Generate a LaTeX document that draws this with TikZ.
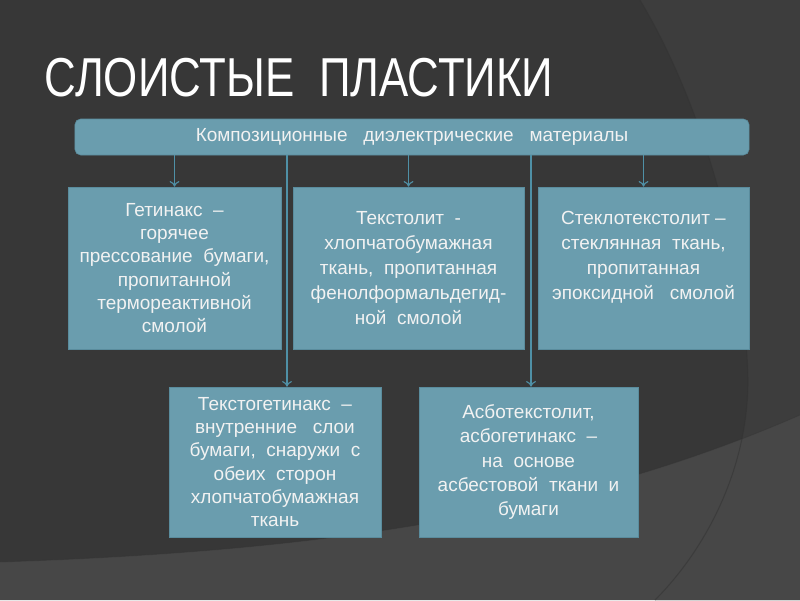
\documentclass[tikz,border=0pt]{standalone}
\usepackage{fontspec}
\setmainfont{Liberation Sans}
\usetikzlibrary{arrows.meta, positioning}

\definecolor{slideBg}{HTML}{373737}
\definecolor{slideArc}{HTML}{3D3D3D}
\definecolor{slideBand}{HTML}{474747}
\definecolor{boxFill}{HTML}{6A9DAE}
\definecolor{boxEdge}{HTML}{5A8C9D}
\definecolor{linkCol}{HTML}{4F90A6}

\begin{document}
\begin{tikzpicture}[x=0.025cm, y=-0.025cm, >={To[length=4pt, width=7pt]},
	matbox/.style={draw=boxEdge, fill=boxFill, text=white!95!black, align=center, inner sep=0pt,
		font=\fontsize{13.5}{16.5}\selectfont},
	headbar/.style={matbox, rounded corners=4pt, minimum width=16.85cm, minimum height=0.9cm},
	link/.style={->, draw=linkCol, line width=0.8pt}]
	\useasboundingbox (0,0) rectangle (800,600);
	% background
	\fill[slideBg] (0,0) rectangle (800,600);
	\fill[slideArc] (640,0) .. controls (700,100) and (745,250) .. (748,380)
		.. controls (748,470) and (705,550) .. (655,600) -- (800,600) -- (800,0) -- cycle;
	\fill[slideBand] (0,562) .. controls (300,552) and (560,520) .. (800,415) -- (800,600) -- (0,600) -- cycle;
	\draw[black!80, opacity=0.5, line width=0.8pt] (640,0) .. controls (700,100) and (745,250) .. (748,380)
		.. controls (748,470) and (705,550) .. (655,600);
	\draw[black!80, opacity=0.4, line width=0.6pt] (0,562) .. controls (300,552) and (560,520) .. (800,415);

	\node[text=white, font=\fontsize{39}{41}\selectfont, anchor=west] (title) at (40,78) {\scalebox{0.8}[1]{СЛОИСТЫЕ~~ПЛАСТИКИ}};

	\node[headbar] (bar) at (412,137) {Композиционные~~~диэлектрические~~~материалы};

	\node[matbox, minimum width=5.325cm, minimum height=4.05cm] (getinaks) at (174.5,268)
		{Гетинакс~~–\\горячее\\прессование~~бумаги,\\пропитанной\\термореактивной\\смолой};
	\node[matbox, minimum width=5.775cm, minimum height=4.05cm, font=\fontsize{13.5}{17.7}\selectfont] (tekstolit) at (408.5,268)
		{Текстолит~~-\\хлопчатобумажная\\ткань,~~пропитанная\\фенолформальдегид-\\ной~~смолой};
	\node[matbox, minimum width=5.275cm, minimum height=4.05cm, font=\fontsize{13.5}{17.7}\selectfont] (steklo) at (643.5,268)
		{Стеклотекстолит~–\\стеклянная~~ткань,\\пропитанная\\эпоксидной~~~смолой\\~};
	\node[matbox, minimum width=5.3cm, minimum height=3.75cm] (tekstoget) at (275,462)
		{Текстогетинакс~~–\\внутренние~~~слои\\бумаги,~~снаружи~~с\\обеих~~сторон\\хлопчатобумажная\\ткань};
	\node[matbox, minimum width=5.475cm, minimum height=3.75cm, font=\fontsize{13.5}{17.3}\selectfont] (asbo) at (528.5,462)
		{Асботекстолит,\\асбогетинакс~~–\\на~~основе\\асбестовой~~ткани~~и\\бумаги};

	\coordinate (gapA) at (287,0);
	\coordinate (gapB) at (531,0);

	\draw[link] (bar.south -| getinaks) -- (getinaks);
	\draw[link] (bar.south -| tekstolit) -- (tekstolit);
	\draw[link] (bar.south -| steklo) -- (steklo);
	\draw[link] (bar.south -| gapA) -- (tekstoget.north -| gapA);
	\draw[link] (bar.south -| gapB) -- (asbo.north -| gapB);
\end{tikzpicture}
\end{document}
